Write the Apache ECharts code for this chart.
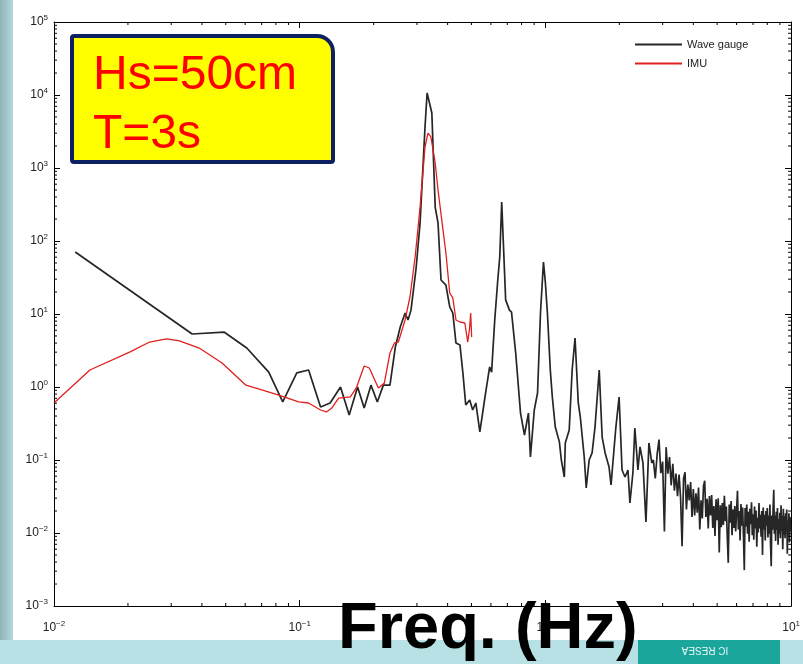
<!DOCTYPE html>
<html><head><meta charset="utf-8">
<script src="https://cdn.jsdelivr.net/npm/echarts@6/dist/echarts.min.js"></script>
<style>html,body{margin:0;padding:0;background:#fff;}#c{width:803px;height:664px;}</style>
</head><body><div id="c"></div>
<script>
// ---- data (Hz, PSD) ----
const gaugeFreqLow = [
  0.0122, 0.0365, 0.0492, 0.0609, 0.0748, 0.0853, 0.0973, 0.1087, 0.1216, 0.133,
  0.1466, 0.159, 0.172, 0.183, 0.195, 0.207, 0.219, 0.233, 0.245, 0.2566,
  0.2685, 0.276, 0.2838, 0.298, 0.309, 0.3236, 0.330, 0.339, 0.345, 0.356,
  0.3656, 0.376, 0.3936, 0.408, 0.42, 0.4325, 0.449, 0.4615, 0.474, 0.492,
  0.5058, 0.521, 0.541, 0.551, 0.571, 0.593, 0.604, 0.622, 0.640, 0.652,
  0.664, 0.676, 0.689, 0.714, 0.728, 0.757, 0.792, 0.822, 0.853, 0.869,
  0.901, 0.929, 0.955, 0.982, 1.0, 1.019, 1.047, 1.067, 1.097, 1.140,
  1.161, 1.194, 1.205, 1.25, 1.285, 1.32, 1.361, 1.387, 1.439, 1.466,
  1.507, 1.549, 1.592, 1.656, 1.702, 1.75, 1.816, 1.85, 1.901, 1.936,
  1.995, 2.051, 2.109, 2.168, 2.208, 2.27, 2.312, 2.38, 2.427, 2.495,
  2.566, 2.638, 2.71
];
const gaugePsdLow = [
  70.6, 5.32, 5.66, 3.42, 1.60, 0.624, 1.56, 1.71, 0.532, 0.604,
  1.0, 0.413, 1.0, 0.515, 1.06, 0.624, 1.06, 1.06, 3.53, 6.64,
  10.3, 8.28, 11.3, 44, 177, 3650, 10640, 7290, 5660, 292,
  177, 29.2, 24.9, 12.5, 10.3, 4.01, 3.76, 1.56, 0.566, 0.664,
  0.484, 0.604, 0.242, 0.234, 0.828, 1.88, 1.60, 8.28, 29.2, 60.4,
  342, 331, 15.6, 11.3, 10.6, 2.92, 0.44, 0.22, 0.44, 0.11,
  0.484, 0.828, 10.3, 51.5, 26.6, 10.3, 1.71, 0.73, 0.283, 0.177,
  0.1, 0.0585, 0.171, 0.258, 1.71, 4.69, 0.604, 0.388, 0.11, 0.0413,
  0.1, 0.125, 0.283, 1.71, 0.206, 0.125, 0.080, 0.0455, 0.137, 0.283,
  0.73, 0.073, 0.0585, 0.073, 0.0258, 0.0664, 0.274, 0.073, 0.151, 0.091,
  0.0142, 0.171, 0.091
];
const gaugeFreqHigh = [
  2.75, 2.80, 2.85, 2.90, 2.95, 3.00, 3.05, 3.10, 3.15, 3.20,
  3.25, 3.30, 3.35, 3.40, 3.45, 3.50, 3.55, 3.60, 3.65, 3.70,
  3.75, 3.80, 3.85, 3.90, 3.95, 4.00, 4.05, 4.10, 4.15, 4.20,
  4.25, 4.30, 4.35, 4.40, 4.45, 4.50, 4.55, 4.60, 4.65, 4.70,
  4.75, 4.80, 4.85, 4.90, 4.95, 5.00, 5.05, 5.10, 5.15, 5.20,
  5.25, 5.30, 5.35, 5.40, 5.45, 5.50, 5.55, 5.60, 5.65, 5.70,
  5.75, 5.80, 5.85, 5.90, 5.95, 6.00, 6.05, 6.10, 6.15, 6.20,
  6.25, 6.30, 6.35, 6.40, 6.45, 6.50, 6.55, 6.60, 6.65, 6.70,
  6.75, 6.80, 6.85, 6.90, 6.95, 7.00, 7.05, 7.10, 7.15, 7.20,
  7.25, 7.30, 7.35, 7.40, 7.45, 7.50, 7.55, 7.60, 7.65, 7.70,
  7.75, 7.80, 7.85, 7.90, 7.95, 8.00, 8.05, 8.10, 8.15, 8.20,
  8.25, 8.30, 8.35, 8.40, 8.45, 8.50, 8.55, 8.60, 8.65, 8.70,
  8.75, 8.80, 8.85, 8.90, 8.95, 9.00, 9.05, 9.10, 9.15, 9.20,
  9.25, 9.30, 9.35, 9.40, 9.45, 9.50, 9.55, 9.60, 9.65, 9.70,
  9.75, 9.80, 9.85, 9.90, 9.95
];
const gaugePsdHigh = [
  0.10, 0.056, 0.12, 0.19, 0.066, 0.095, 0.0105, 0.15, 0.065, 0.11,
  0.045, 0.089, 0.038, 0.065, 0.032, 0.063, 0.030, 0.0066, 0.056, 0.068,
  0.021, 0.046, 0.028, 0.050, 0.0166, 0.040, 0.0174, 0.035, 0.019, 0.042,
  0.0112, 0.028, 0.0158, 0.044, 0.052, 0.0166, 0.0295, 0.0115, 0.032, 0.0174,
  0.033, 0.0117, 0.0234, 0.0091, 0.029, 0.015, 0.030, 0.0054, 0.024, 0.012,
  0.0257, 0.0129, 0.0324, 0.0145, 0.023, 0.0087, 0.0039, 0.0245, 0.0138, 0.0275,
  0.0093, 0.021, 0.0117, 0.0234, 0.0105, 0.020, 0.038, 0.0112, 0.020, 0.0079,
  0.025, 0.0126, 0.0224, 0.0089, 0.0031, 0.022, 0.0123, 0.0245, 0.0098, 0.0195,
  0.0076, 0.0214, 0.0132, 0.0263, 0.0093, 0.018, 0.0081, 0.023, 0.0115, 0.0204,
  0.0065, 0.0162, 0.0102, 0.0257, 0.0115, 0.0178, 0.0089, 0.020, 0.005, 0.0224,
  0.0112, 0.0178, 0.0079, 0.020, 0.0126, 0.022, 0.0087, 0.0174, 0.0098, 0.0245,
  0.0069, 0.0035, 0.0174, 0.011, 0.022, 0.039, 0.0098, 0.0174, 0.0078, 0.0195,
  0.011, 0.022, 0.0069, 0.0155, 0.0098, 0.019, 0.0085, 0.024, 0.0107, 0.017,
  0.006, 0.0214, 0.0095, 0.017, 0.0085, 0.0186, 0.0105, 0.021, 0.0052, 0.0148,
  0.0093, 0.0186, 0.0074, 0.0166, 0.0105
];
const imuFreq = [
  0.01, 0.014, 0.0203, 0.0245, 0.0287, 0.0324, 0.039, 0.0483, 0.0604, 0.0728,
  0.0822, 0.099, 0.1087, 0.1216, 0.1285, 0.135, 0.144, 0.1607, 0.170, 0.183,
  0.192, 0.209, 0.221, 0.233, 0.243, 0.252, 0.2685, 0.281, 0.295, 0.309,
  0.3236, 0.3327, 0.342, 0.356, 0.3656, 0.383, 0.3936, 0.408, 0.42, 0.4325,
  0.449, 0.47, 0.483, 0.492, 0.4965, 0.501
];
const imuPsd = [
  0.604, 1.71, 3.01, 4.13, 4.55, 4.27, 3.42, 2.13, 1.06, 0.88,
  0.776, 0.624, 0.604, 0.484, 0.455, 0.515, 0.706, 0.73, 0.97, 1.94,
  1.82, 0.97, 1.13, 2.92, 4.01, 4.13, 8.28, 17.1, 60.4, 292,
  1940, 3010, 2660, 1170, 500, 142, 68.5, 19.4, 16.6, 8.28,
  7.77, 7.53, 4.13, 6.64, 10.3, 4.84
];
const seriesNames = ['Wave gauge', 'IMU'];
const xRange = [0.01, 10];
const yRange = [0.001, 100000];
const annotationLines = ['Hs=50cm', 'T=3s'];
const xAxisTitle = 'Freq. (Hz)';

// ---- build ----
const zip = (a, b) => a.map((v, i) => [v, b[i]]);
const gaugeData = zip(gaugeFreqLow, gaugePsdLow).concat(zip(gaugeFreqHigh, gaugePsdHigh));
const imuData = zip(imuFreq, imuPsd);

function minorVals(lo, hi) {
  const out = [];
  for (let d = Math.round(Math.log10(lo)); d < Math.round(Math.log10(hi)); d++) {
    for (let m = 2; m <= 9; m++) out.push(m * Math.pow(10, d));
  }
  return out;
}
const xMinor = minorVals(xRange[0], xRange[1]);
const yMinor = minorVals(yRange[0], yRange[1]);

function expLabel(v) {
  const e = Math.round(Math.log10(v));
  return '{b|10}{s|' + (e < 0 ? '\u2212' + (-e) : e) + '}';
}
const FONT = "'Liberation Sans', Arial, sans-serif";
const richLab = {
  b: { fontSize: 12, fontFamily: FONT, color: '#222' },
  s: { fontSize: 8, fontFamily: FONT, color: '#222', padding: [0, 0, 8, 0] }
};

const logAxisCommon = {
  type: 'log', logBase: 10, interval: 1,
  axisLine: { show: true, onZero: false, lineStyle: { color: '#000', width: 1 } },
  axisTick: { show: true, inside: true, length: 6, lineStyle: { color: '#000', width: 1 } },
  splitLine: { show: false },
  minorTick: { show: false }
};

const chart = echarts.init(document.getElementById('c'), null, { renderer: 'canvas' });
chart.setOption({
  animation: false,
  backgroundColor: '#ffffff',
  grid: { left: 54, top: 22, width: 740, height: 584, containLabel: false },
  xAxis: [
    Object.assign({}, logAxisCommon, { position: 'bottom', min: xRange[0], max: xRange[1],
      axisLabel: { show: true, margin: 14, formatter: expLabel, rich: richLab } }),
    Object.assign({}, logAxisCommon, { position: 'top', min: xRange[0], max: xRange[1],
      axisLabel: { show: false } })
  ],
  yAxis: [
    Object.assign({}, logAxisCommon, { position: 'left', min: yRange[0], max: yRange[1],
      axisLabel: { show: true, margin: 6, formatter: expLabel, rich: richLab } }),
    Object.assign({}, logAxisCommon, { position: 'right', min: yRange[0], max: yRange[1],
      axisLabel: { show: false } })
  ],
  legend: {
    data: seriesNames, orient: 'vertical', left: 635, top: 39, padding: 0,
    itemWidth: 47, itemHeight: 2, itemGap: 8, icon: 'rect',
    textStyle: { fontSize: 11, fontFamily: FONT, color: '#222' },
    selectedMode: false
  },
  series: [
    { name: seriesNames[0], type: 'line', data: gaugeData, symbol: 'none', smooth: false,
      lineStyle: { color: '#262626', width: 1.7 }, itemStyle: { color: '#262626' }, z: 3 },
    { name: seriesNames[1], type: 'line', data: imuData, symbol: 'none', smooth: false,
      lineStyle: { color: '#e0201e', width: 1.3 }, itemStyle: { color: '#e0201e' }, z: 4 },
    { type: 'custom', silent: true, z: 6, clip: false, data: xMinor.map(v => [v, 1]),
      renderItem: function (p, api) {
        const x = api.value(0);
        const b = api.coord([x, yRange[0]]);
        const t = api.coord([x, yRange[1]]);
        return { type: 'group', children: [
          { type: 'line', shape: { x1: b[0], y1: b[1], x2: b[0], y2: b[1] - 3 }, style: { stroke: '#000', lineWidth: 1 } },
          { type: 'line', shape: { x1: t[0], y1: t[1], x2: t[0], y2: t[1] + 3 }, style: { stroke: '#000', lineWidth: 1 } }
        ]};
      } },
    { type: 'custom', silent: true, z: 6, clip: false, data: yMinor.map(v => [1, v]),
      renderItem: function (p, api) {
        const y = api.value(1);
        const l = api.coord([xRange[0], y]);
        const r = api.coord([xRange[1], y]);
        return { type: 'group', children: [
          { type: 'line', shape: { x1: l[0], y1: l[1], x2: l[0] + 3, y2: l[1] }, style: { stroke: '#000', lineWidth: 1 } },
          { type: 'line', shape: { x1: r[0], y1: r[1], x2: r[0] - 3, y2: r[1] }, style: { stroke: '#000', lineWidth: 1 } }
        ]};
      } }
  ],
  graphic: [
    { type: 'rect', z: -10, shape: { x: 0, y: 0, width: 13, height: 664 },
      style: { fill: new echarts.graphic.LinearGradient(0, 0, 1, 0, [
        { offset: 0, color: '#8fb3b6' }, { offset: 1, color: '#b3d9dc' }]) } },
    { type: 'rect', z: -9, shape: { x: 0, y: 640, width: 803, height: 24 }, style: { fill: '#b8e1e5' } },
    { type: 'rect', z: -8, shape: { x: 638, y: 640, width: 142, height: 24 }, style: { fill: '#1ba69c' } },
    { type: 'text', z: -7, x: 705, y: 650, rotation: Math.PI,
      style: { text: 'IC RESEA', fill: '#e8f6f5', font: "10px " + FONT, align: 'center', verticalAlign: 'middle' } },
    { type: 'rect', z: 100, shape: { x: 72, y: 36, width: 261, height: 126, r: [2, 16, 2, 2] },
      style: { fill: '#ffff00', stroke: '#0d2162', lineWidth: 4 } },
    { type: 'text', z: 101, x: 93, y: 52,
      style: { text: annotationLines[0], fill: '#ff0000', font: "48px " + FONT, verticalAlign: 'top' } },
    { type: 'text', z: 101, x: 93, y: 111,
      style: { text: annotationLines[1], fill: '#ff0000', font: "48px " + FONT, verticalAlign: 'top' } },
    { type: 'text', z: 102, x: 338, y: 598,
      style: { text: xAxisTitle, fill: '#000', font: "bold 65px " + FONT, verticalAlign: 'top' } }
  ]
});
</script>
</body></html>
